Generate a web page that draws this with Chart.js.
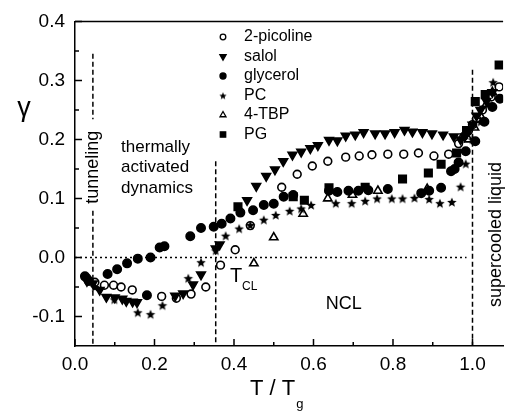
<!DOCTYPE html>
<html>
<head>
<meta charset="utf-8">
<script src="https://cdn.jsdelivr.net/npm/chart.js@4.4.1/dist/chart.umd.min.js"></script>
<style>
  html, body { margin: 0; padding: 0; background: #fff; }
  #wrap { width: 510px; height: 412px; }
</style>
</head>
<body>
<div id="wrap"><canvas id="chart" width="510" height="412"></canvas></div>
<script>
// gamma vs T/Tg
const picolineX = [0.03, 0.05, 0.074, 0.097, 0.116, 0.144, 0.218, 0.255, 0.292, 0.329, 0.366, 0.403, 0.441, 0.52, 0.559, 0.597, 0.636, 0.681, 0.715, 0.747, 0.787, 0.827, 0.864, 0.903, 0.94, 0.965, 0.978, 0.99, 1.0, 1.01, 1.025, 1.047, 1.067]
const picolineY = [-0.035, -0.042, -0.047, -0.047, -0.05, -0.055, -0.066, -0.069, -0.062, -0.05, -0.013, 0.013, 0.054, 0.119, 0.141, 0.155, 0.163, 0.17, 0.172, 0.174, 0.175, 0.175, 0.177, 0.172, 0.175, 0.193, 0.205, 0.215, 0.225, 0.235, 0.25, 0.272, 0.289]

const salolX = [0.03, 0.045, 0.062, 0.079, 0.1, 0.119, 0.129, 0.145, 0.156, 0.252, 0.272, 0.297, 0.317, 0.354, 0.364, 0.433, 0.456, 0.481, 0.503, 0.524, 0.547, 0.569, 0.592, 0.611, 0.639, 0.66, 0.681, 0.705, 0.726, 0.755, 0.78, 0.804, 0.829, 0.849, 0.874, 0.898, 0.926, 0.953, 0.97, 0.98, 0.99, 1.0, 1.01, 1.02, 1.035, 1.05]
const salolY = [-0.04, -0.044, -0.055, -0.067, -0.068, -0.07, -0.074, -0.075, -0.076, -0.065, -0.061, -0.046, -0.029, 0.015, 0.022, 0.097, 0.121, 0.138, 0.149, 0.163, 0.174, 0.179, 0.185, 0.19, 0.199, 0.198, 0.206, 0.208, 0.212, 0.21, 0.21, 0.212, 0.216, 0.213, 0.212, 0.21, 0.208, 0.205, 0.2, 0.205, 0.215, 0.225, 0.24, 0.25, 0.265, 0.28]

const glycerolX = [0.025, 0.035, 0.082, 0.106, 0.131, 0.158, 0.181, 0.19, 0.213, 0.225, 0.29, 0.317, 0.349, 0.369, 0.391, 0.416, 0.448, 0.475, 0.5, 0.525, 0.549, 0.639, 0.66, 0.688, 0.713, 0.738, 0.787, 0.871, 0.891, 0.921, 0.946, 0.955, 0.965, 0.983, 1.007, 1.03, 1.05, 1.069]
const glycerolY = [-0.032, -0.04, -0.028, -0.02, -0.01, -0.002, -0.064, 0.0, 0.017, 0.019, 0.036, 0.05, 0.052, 0.057, 0.066, 0.076, 0.08, 0.089, 0.091, 0.103, 0.106, 0.113, 0.111, 0.113, 0.113, 0.114, 0.116, 0.109, 0.113, 0.118, 0.146, 0.15, 0.161, 0.18, 0.197, 0.23, 0.255, 0.269]

const pcX = [0.05, 0.099, 0.158, 0.19, 0.22, 0.285, 0.317, 0.354, 0.379, 0.413, 0.441, 0.475, 0.505, 0.54, 0.569, 0.594, 0.656, 0.696, 0.73, 0.76, 0.797, 0.824, 0.854, 0.891, 0.918, 0.948, 0.97, 0.983, 1.0, 1.02, 1.04, 1.052]
const pcY = [-0.05, -0.071, -0.093, -0.096, -0.081, -0.035, -0.008, 0.012, 0.037, 0.049, 0.055, 0.064, 0.072, 0.079, 0.083, 0.089, 0.092, 0.092, 0.096, 0.1, 0.1, 0.1, 0.101, 0.099, 0.092, 0.094, 0.12, 0.159, 0.2, 0.23, 0.26, 0.297]

const tbpX = [0.45, 0.5, 0.574, 0.636, 0.698, 0.762, 0.886, 0.99, 1.005, 1.02, 1.035, 1.05]
const tbpY = [-0.01, 0.034, 0.074, 0.1, 0.106, 0.113, 0.116, 0.2, 0.22, 0.24, 0.26, 0.28]

const pgX = [0.41, 0.549, 0.577, 0.639, 0.73, 0.824, 0.889, 0.921, 0.96, 0.985, 1.007, 1.032, 1.067]
const pgY = [0.086, 0.103, 0.097, 0.118, 0.119, 0.133, 0.143, 0.158, 0.177, 0.215, 0.264, 0.276, 0.326]

const seriesNames = ['2-picoline', 'salol', 'glycerol', 'PC', '4-TBP', 'PG']

const xTicks = [0, 0.2, 0.4, 0.6, 0.8, 1.0]
const xMinorTicks = [0.1, 0.3, 0.5, 0.7, 0.9]
const yTicks = [-0.1, 0, 0.1, 0.2, 0.3, 0.4]
const yMinorTicks = [-0.05, 0.05, 0.15, 0.25, 0.35]

// regime boundaries (T/Tg)
const tunnelX = 0.045
const tclX = 0.354
const tgX = 1.0

const FONT = '"Liberation Sans", Arial, Helvetica, sans-serif'
const X_MAX = 1.077

const zip = (xs, ys) => xs.map((x, i) => ({ x, y: ys[i] }))

const makeStar = (r) => {
  const c = document.createElement('canvas')
  const s = Math.ceil(r * 2) + 2
  c.width = s
  c.height = s
  const g = c.getContext('2d')
  g.fillStyle = '#000'
  g.beginPath()
  for (let i = 0; i < 10; i++) {
    const rr = i % 2 === 0 ? r : r * 0.45
    const a = -Math.PI / 2 + (i * Math.PI) / 5
    const px = s / 2 + rr * Math.cos(a)
    const py = s / 2 + 0.6 + rr * Math.sin(a)
    if (i === 0) g.moveTo(px, py)
    else g.lineTo(px, py)
  }
  g.closePath()
  g.fill()
  return c
}
const star = makeStar(5)
const starSmall = makeStar(3.8)

const markerStyles = [
  { pointStyle: 'circle', radius: 3.9, fill: 'rgba(0,0,0,0)', rotation: 0 },
  { pointStyle: 'triangle', radius: 5, fill: '#000', rotation: 180 },
  { pointStyle: 'circle', radius: 4.2, fill: '#000', rotation: 0 },
  { pointStyle: star, radius: 5, fill: '#000', rotation: 0 },
  { pointStyle: 'triangle', radius: 4.8, fill: 'rgba(0,0,0,0)', rotation: 0 },
  { pointStyle: 'rect', radius: 5.3, fill: '#000', rotation: 0 },
]

const seriesData = [
  zip(picolineX, picolineY),
  zip(salolX, salolY),
  zip(glycerolX, glycerolY),
  zip(pcX, pcY),
  zip(tbpX, tbpY),
  zip(pgX, pgY),
]

const pointSets = seriesData.map((data, i) => ({
  label: seriesNames[i],
  data,
  pointStyle: markerStyles[i].pointStyle,
  pointRadius: markerStyles[i].radius,
  pointRotation: markerStyles[i].rotation,
  pointBackgroundColor: markerStyles[i].fill,
  pointBorderColor: '#000',
  pointBorderWidth: 1.6,
  showLine: false,
}))

const refLine = (data, dash) => ({
  label: '',
  data,
  showLine: true,
  pointRadius: 0,
  borderColor: '#000',
  borderWidth: 1.5,
  borderDash: dash,
  spanGaps: false,
})

const lineSets = [
  refLine([{ x: 0, y: 0 }, { x: 0.985, y: 0 }], [2, 3]),
  refLine([{ x: tunnelX, y: 0.345 }, { x: tunnelX, y: 0.234 }, { x: tunnelX, y: null }, { x: tunnelX, y: 0.079 }, { x: tunnelX, y: -0.15 }], [5, 3]),
  refLine([{ x: tclX, y: 0.163 }, { x: tclX, y: -0.15 }], [5, 3]),
  refLine([{ x: tgX, y: 0.318 }, { x: tgX, y: -0.15 }], [5, 3]),
]

const frame = {
  id: 'frame',
  afterDraw(chart) {
    const { ctx, chartArea: a, scales: { x, y } } = chart
    ctx.save()
    ctx.strokeStyle = '#000'
    ctx.fillStyle = '#000'
    ctx.lineWidth = 1.5
    // top border
    ctx.beginPath()
    ctx.moveTo(a.left, a.top)
    ctx.lineTo(a.right, a.top)
    ctx.stroke()
    // inward ticks
    ctx.beginPath()
    xTicks.forEach((v) => { const p = x.getPixelForValue(v); ctx.moveTo(p, a.bottom); ctx.lineTo(p, a.bottom - 7) })
    xMinorTicks.forEach((v) => { const p = x.getPixelForValue(v); ctx.moveTo(p, a.bottom); ctx.lineTo(p, a.bottom - 4) })
    yTicks.forEach((v) => { const p = y.getPixelForValue(v); ctx.moveTo(a.left, p); ctx.lineTo(a.left + 7, p) })
    yMinorTicks.forEach((v) => { const p = y.getPixelForValue(v); ctx.moveTo(a.left, p); ctx.lineTo(a.left + 4, p) })
    ctx.stroke()

    // axis titles
    ctx.font = `27px ${FONT}`
    ctx.textAlign = 'center'
    ctx.textBaseline = 'alphabetic'
    ctx.fillText('γ', a.left - 51, 116)
    ctx.textAlign = 'left'
    ctx.font = `22px ${FONT}`
    ctx.fillText('T / T', a.left + 175, 395)
    const tw = ctx.measureText('T / T').width
    ctx.font = `13px ${FONT}`
    ctx.fillText('g', a.left + 175 + tw + 1, 408)

    // region labels
    ctx.font = `17px ${FONT}`
    ctx.textBaseline = 'middle'
    const tx = x.getPixelForValue(0.116)
    ;[['thermally', 0.187], ['activated', 0.153], ['dynamics', 0.118]].forEach(([t, v]) => {
      ctx.fillText(t, tx, y.getPixelForValue(v))
    })
    ctx.font = `18px ${FONT}`
    ctx.textAlign = 'center'
    ctx.fillText('NCL', x.getPixelForValue(0.676), y.getPixelForValue(-0.079))

    ctx.textBaseline = 'alphabetic'
    ctx.textAlign = 'left'
    ctx.font = `20px ${FONT}`
    const tclLeft = x.getPixelForValue(0.39)
    const tclBase = y.getPixelForValue(-0.042)
    ctx.fillText('T', tclLeft, tclBase)
    ctx.font = `12px ${FONT}`
    ctx.fillText('CL', tclLeft + 12, tclBase + 8)

    const rotated = (text, vx, vy, size) => {
      ctx.save()
      ctx.translate(x.getPixelForValue(vx), y.getPixelForValue(vy))
      ctx.rotate(-Math.PI / 2)
      ctx.font = `${size}px ${FONT}`
      ctx.textAlign = 'center'
      ctx.textBaseline = 'middle'
      ctx.fillText(text, 0, 0)
      ctx.restore()
    }
    rotated('tunneling', tunnelX, 0.153, 18)
    rotated('supercooled liquid', 1.058, 0.039, 18)

    // legend
    const legX = 223
    const legY = [37, 56.5, 76, 95.5, 115, 134.5]
    ctx.font = `16px ${FONT}`
    ctx.textBaseline = 'middle'
    ctx.textAlign = 'left'
    seriesNames.forEach((name, i) => {
      const m = markerStyles[i]
      const cy = legY[i]
      if (i === 3) {
        ctx.drawImage(starSmall, legX - starSmall.width / 2, cy - starSmall.height / 2)
      } else {
        ctx.save()
        ctx.fillStyle = m.fill
        ctx.strokeStyle = '#000'
        ctx.lineWidth = 1.3
        Chart.helpers.drawPoint(ctx, {
          pointStyle: m.pointStyle,
          rotation: m.rotation,
          radius: m.radius * 0.72,
          borderWidth: 1.3,
        }, legX, cy)
        ctx.restore()
      }
      ctx.fillStyle = '#000'
      ctx.fillText(name, legX + 21, cy)
    })
    ctx.restore()
  },
}

const tickFont = { family: FONT, size: 19 }

const chart = new Chart(document.getElementById('chart'), {
  type: 'scatter',
  data: { datasets: [...pointSets, ...lineSets] },
  options: {
    responsive: false,
    animation: false,
    events: [],
    layout: { padding: { top: 19, right: 0, left: 0, bottom: 0 } },
    plugins: { legend: { display: false }, tooltip: { enabled: false } },
    scales: {
      x: {
        type: 'linear',
        min: 0,
        max: X_MAX,
        grid: { display: false, drawTicks: false },
        border: { color: '#000', width: 1.5 },
        ticks: { color: '#000', font: tickFont, padding: 7, maxRotation: 0, callback: (v) => v.toFixed(1) },
        afterBuildTicks: (s) => { s.ticks = xTicks.map((value) => ({ value })) },
        afterFit: (s) => { s.height = 66 },
      },
      y: {
        type: 'linear',
        min: -0.15,
        max: 0.4,
        grid: { display: false, drawTicks: false },
        border: { color: '#000', width: 1.5 },
        ticks: { color: '#000', font: tickFont, padding: 10, callback: (v) => v.toFixed(1) },
        afterBuildTicks: (s) => { s.ticks = yTicks.map((value) => ({ value })) },
        afterFit: (s) => { s.width = 75 },
      },
    },
  },
  plugins: [frame],
})
</script>
</body>
</html>
